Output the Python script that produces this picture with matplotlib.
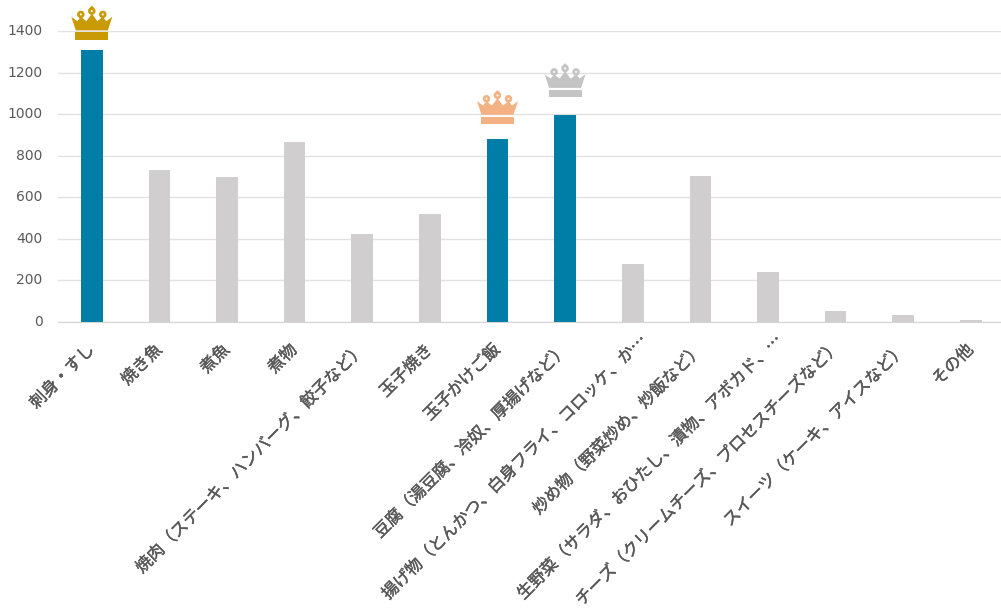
import matplotlib
matplotlib.use('Agg')
import matplotlib.pyplot as plt
import matplotlib.patheffects as pe
from matplotlib.patches import Polygon, Rectangle, Circle
from matplotlib.transforms import Affine2D, ScaledTranslation

plt.rcParams['font.family'] = ['Noto Sans CJK JP', 'DejaVu Sans']

# Data
labels = ['刺身・すし', '焼き魚', '煮魚', '煮物', '焼肉（ステーキ、ハンバーグ、餃子など）', '玉子焼き',
          '玉子かけご飯', '豆腐（湯豆腐、冷奴、厚揚げなど）', '揚げ物（とんかつ、白身フライ、コロッケ、か…',
          '炒め物（野菜炒め、炒飯など）', '生野菜（サラダ、おひたし、漬物、アボカド、…',
          'チーズ（クリームチーズ、プロセスチーズなど）', 'スイーツ（ケーキ、アイスなど）', 'その他']
values = [1310, 730, 700, 865, 425, 520, 880, 995, 280, 703, 240, 55, 33, 12]
yticks = [0, 200, 400, 600, 800, 1000, 1200, 1400]
top3 = [0, 6, 7]

BLUE = '#007ea7'
GRAY = '#d0cece'
crown_colors = {0: '#c99a06', 6: '#f4b183', 7: '#c4c4c4'}
crown_gap = {0: 10, 6: 15, 7: 18}  # px between bar top and crown

W, H = 1001, 610
fig = plt.figure(figsize=(W / 100, H / 100), dpi=100)
ax = fig.add_axes([58 / W, (H - 322) / H, (W - 58) / W, (322 - 31) / H])

x = list(range(len(values)))
colors = [BLUE if i in top3 else GRAY for i in x]
ax.bar(x, values, width=0.32, color=colors, zorder=2)

ax.set_xlim(-0.5, 13.447)
ax.set_ylim(0, 1400)
ax.set_yticks(yticks)
ax.grid(axis='y', color='#e2e2e2', linewidth=1, zorder=0)
ax.set_axisbelow(True)
for s in ['top', 'left', 'right']:
    ax.spines[s].set_visible(False)
ax.spines['bottom'].set_color('#d4d4d4')
ax.tick_params(axis='both', length=0)
ax.tick_params(axis='y', pad=11)
for t in ax.get_yticklabels():
    t.set_family('DejaVu Sans')
    t.set_fontsize(10)
    t.set_color('#595959')
    t.set_transform(t.get_transform() + Affine2D().translate(0, 1.5))

ax.set_xticks(x)
ax.set_xticklabels(labels, rotation=45, ha='right', va='top', rotation_mode='anchor',
                   fontsize=12, color='#595959')
ax.tick_params(axis='x', pad=14)
for i, t in enumerate(ax.get_xticklabels()):
    # the two truncated labels sit further along their slant
    dx, dy = (5, 9) if labels[i].endswith('…') else (-6, 0)
    if labels[i].startswith('チーズ'):
        dx, dy = -4, 3  # longest one, keep it inside the bottom edge
    t.set_transform(t.get_transform() + Affine2D().translate(dx, dy))
    t.set_path_effects([pe.withStroke(linewidth=0.3, foreground='#595959')])


# Crown icon in pixel units, origin at the middle of its base
def draw_crown(i):
    c = crown_colors[i]
    tr = Affine2D().translate(0, crown_gap[i]) + ScaledTranslation(i, values[i], ax.transData)
    body = [(-16, 9.3), (-20.5, 23), (-14.5, 18.5), (-11, 23), (-5.5, 18.5), (0, 26),
            (5.5, 18.5), (11, 23), (14.5, 18.5), (20.5, 23), (16, 9.3)]
    ax.add_patch(Polygon(body, closed=True, fc=c, ec='none', transform=tr, clip_on=False, zorder=3))
    ax.add_patch(Rectangle((-16.5, 0), 33, 7.5, fc=c, ec='none', transform=tr, clip_on=False, zorder=3))
    top = [(-2.5, 31.5), (0, 34), (2.5, 31.5), (0, 29)]
    ax.add_patch(Polygon(top, closed=True, fc=c, ec='none', transform=tr, clip_on=False, zorder=3))
    for cx, cy in [(-11, 25.3), (0, 28.7), (11, 25.3)]:
        ax.add_patch(Circle((cx, cy), 2.4, fc='white', ec=c, lw=1.9, transform=tr, clip_on=False, zorder=4))


for i in top3:
    draw_crown(i)

fig.savefig('out.png', dpi=100, facecolor='white')
